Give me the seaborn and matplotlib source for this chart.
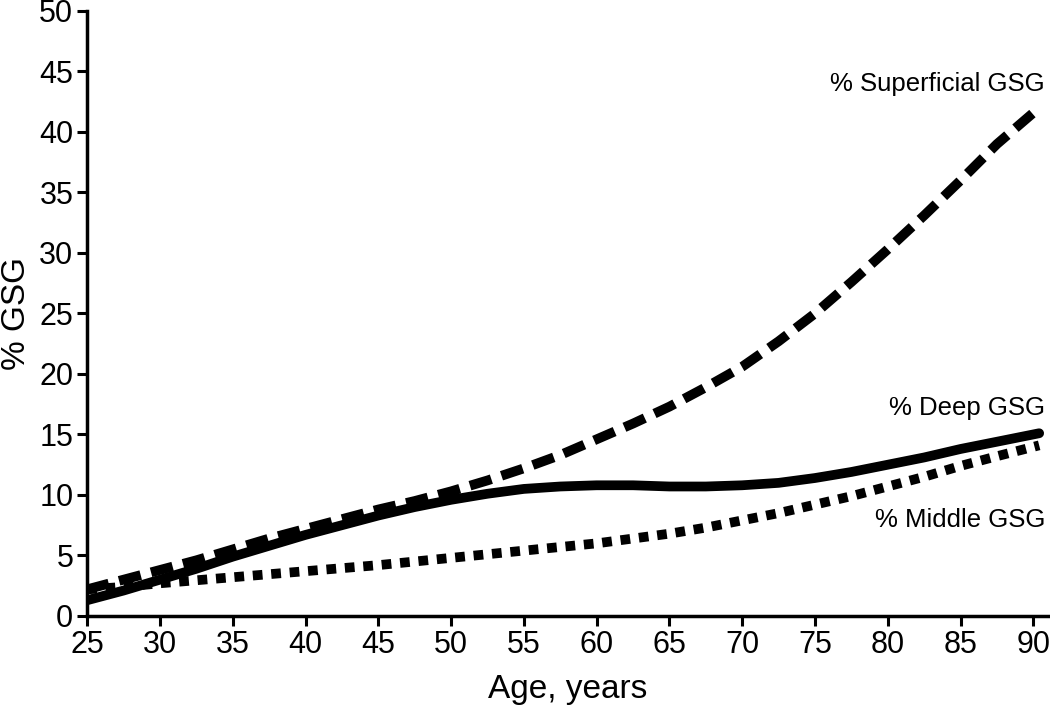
import pandas as pd
import seaborn as sns
import matplotlib.pyplot as plt

# --- Values ---
age = [25, 27.5, 30, 32.5, 35, 37.5, 40, 42.5, 45, 47.5, 50, 52.5, 55, 57.5,
       60, 62.5, 65, 67.5, 70, 72.5, 75, 77.5, 80, 82.5, 85, 87.5, 90.4]
superficial = [2.2, 3.0, 3.8, 4.6, 5.5, 6.4, 7.2, 8.0, 8.8, 9.5, 10.3, 11.2, 12.2, 13.3,
               14.6, 15.9, 17.3, 18.9, 20.6, 22.7, 25.0, 27.6, 30.3, 33.1, 36.0, 39.0, 42.0]
deep = [1.3, 2.1, 3.0, 3.9, 4.9, 5.8, 6.7, 7.5, 8.3, 9.0, 9.6, 10.1, 10.5, 10.7,
        10.8, 10.8, 10.7, 10.7, 10.8, 11.0, 11.4, 11.9, 12.5, 13.1, 13.8, 14.4, 15.1]
middle = [2.2, 2.4, 2.7, 2.95, 3.2, 3.45, 3.7, 3.95, 4.2, 4.5, 4.8, 5.1, 5.4, 5.7,
          6.0, 6.4, 6.8, 7.3, 7.9, 8.5, 9.2, 9.9, 10.7, 11.5, 12.4, 13.2, 14.1]

series_names = ["% Superficial GSG", "% Deep GSG", "% Middle GSG"]
label_y = [44.0, 17.2, 7.9]

df = pd.concat([
    pd.DataFrame({"age": age, "value": superficial, "series": series_names[0]}),
    pd.DataFrame({"age": age, "value": deep, "series": series_names[1]}),
    pd.DataFrame({"age": age, "value": middle, "series": series_names[2]}),
])

sns.set_style("ticks")
plt.rcParams["font.family"] = ["Liberation Sans", "DejaVu Sans"]
for key in ["text.color", "axes.labelcolor", "xtick.color", "ytick.color", "axes.edgecolor"]:
    plt.rcParams[key] = "black"

fig = plt.figure(figsize=(10.5, 7.08), dpi=100)
ax = fig.add_axes([0.083, 0.130, 0.915, 0.8545])

dash_styles = {
    series_names[0]: (2.3, 1.1),
    series_names[1]: "",
    series_names[2]: (1.0, 0.9),
}
sns.lineplot(
    data=df, x="age", y="value", hue="series", style="series",
    palette=["black"] * 3, dashes=dash_styles, linewidth=7,
    legend=False, ax=ax,
)

# --- Direct labels on the right ---
for name, y in zip(series_names, label_y):
    ax.text(90.8, y, name, ha="right", va="center", fontsize=18.5)

# --- Axes styling ---
ax.set_xlim(25, 91.0)
ax.set_ylim(0, 50)
ax.set_xticks(range(25, 95, 5))
ax.set_yticks(range(0, 55, 5))
ax.tick_params(labelsize=22, width=2.2, length=7, direction="out", pad=3)
for side in ["left", "bottom"]:
    ax.spines[side].set_linewidth(2.5)
sns.despine(ax=ax)
ax.set_xlabel("Age, years", fontsize=24, labelpad=10)
ax.set_ylabel("% GSG", fontsize=24, labelpad=5)

fig.savefig("out.png", dpi=100)
